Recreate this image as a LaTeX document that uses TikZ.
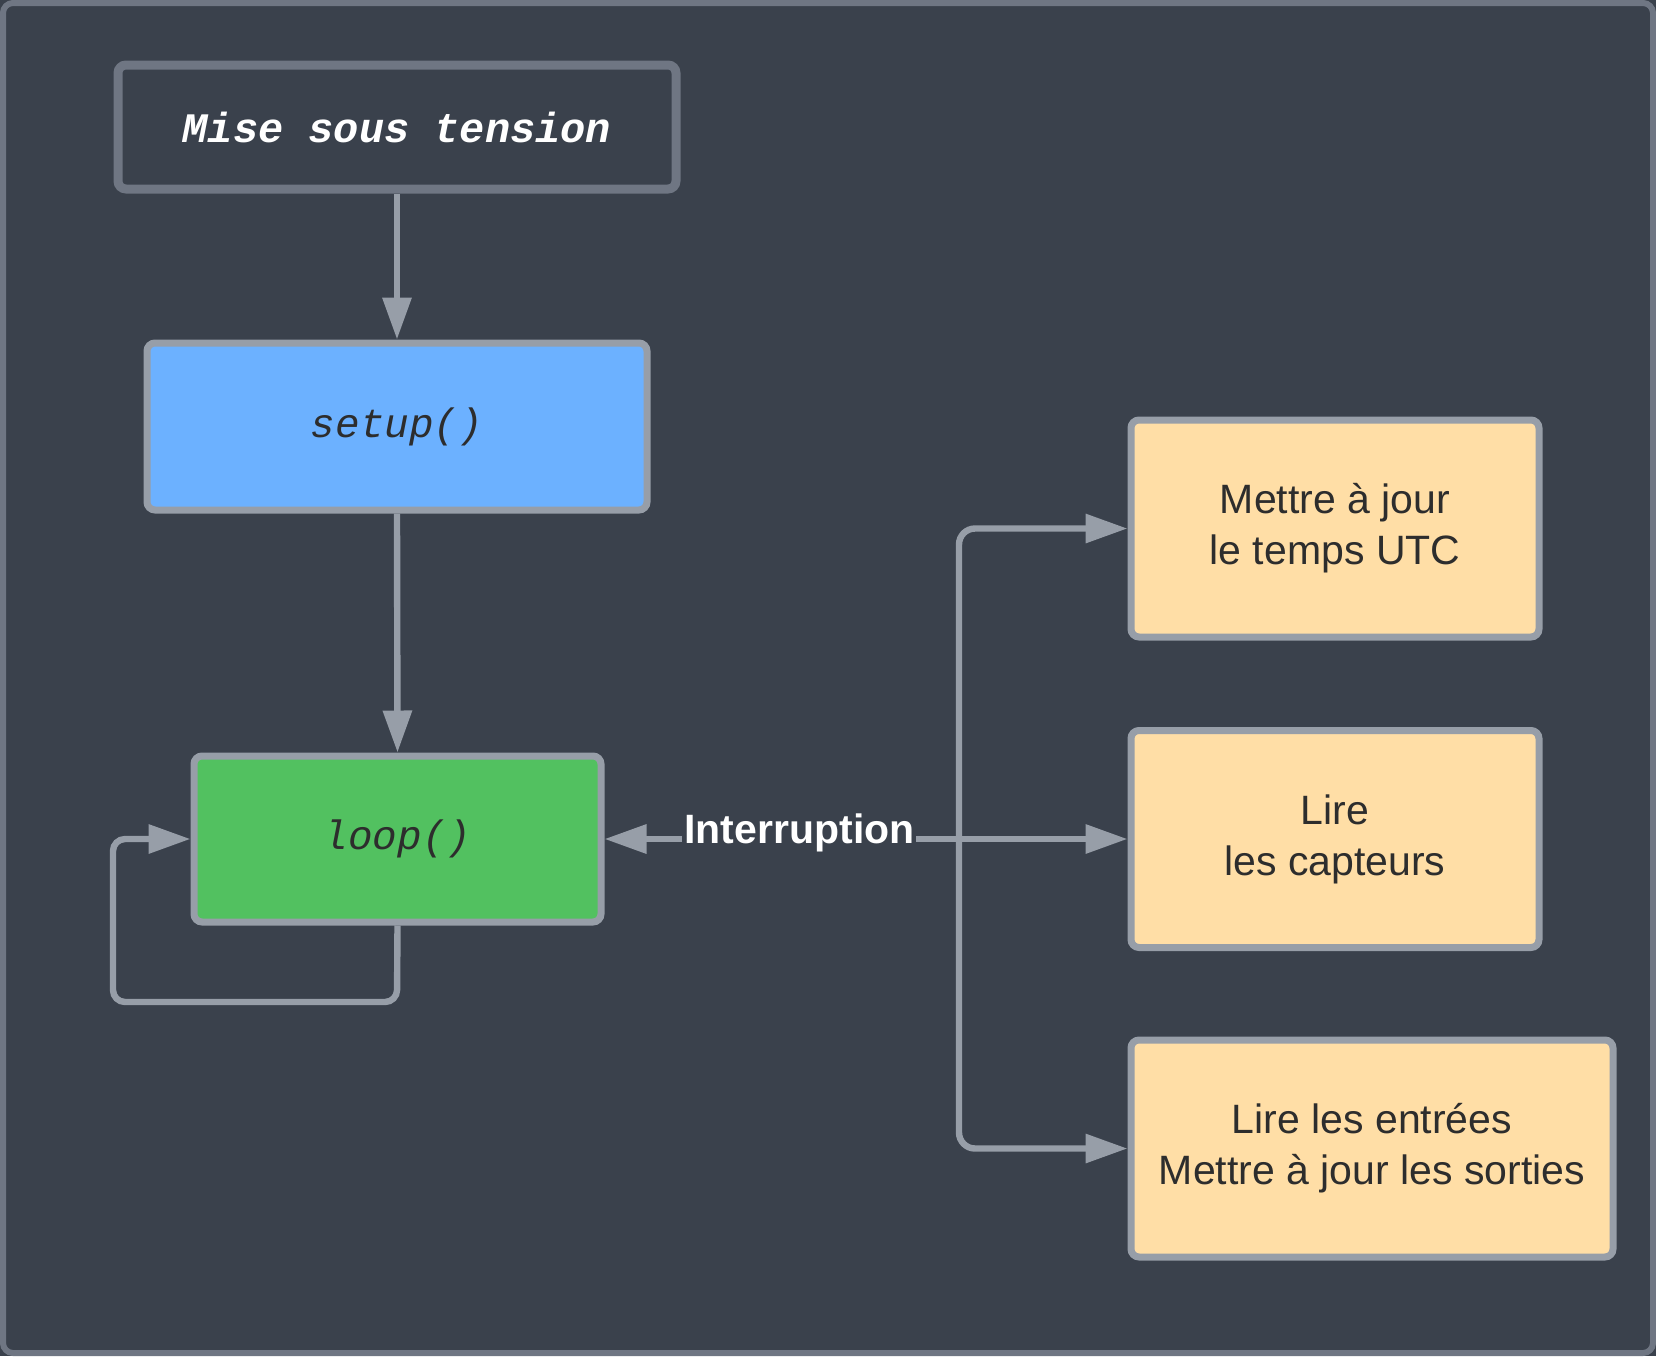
\documentclass[tikz,border=0pt]{standalone}
\usepackage{fontspec}
\setmainfont{Liberation Sans}
\newfontfamily\codefont{Liberation Mono}
\usetikzlibrary{arrows.meta,positioning}
\definecolor{bgc}{HTML}{3A414C}
\definecolor{framec}{HTML}{6F7683}
\definecolor{edgec}{HTML}{979EA8}
\definecolor{bluec}{HTML}{6CB1FF}
\definecolor{greenc}{HTML}{52C160}
\definecolor{orangec}{HTML}{FFDEA6}
\definecolor{darktxt}{HTML}{2D2D2D}
\tikzset{
  box/.style={draw=edgec, line width=3.5pt, rounded corners=4pt, align=center, inner sep=0pt},
  codetxt/.style={font=\codefont\fontsize{20.5}{25}\selectfont\itshape, text=darktxt},
  sanstxt/.style={font=\fontsize{20.5}{25.5}\selectfont, text=darktxt},
  conn/.style={draw=edgec, line width=3.2pt, -{Triangle[length=21pt,width=14pt]}},
}
\begin{document}
\begin{tikzpicture}[x=0.5pt,y=-0.5pt]
\useasboundingbox (0,0) rectangle (1656,1356);
\fill[bgc] (0,0) rectangle (1656,1356);
\draw[framec, line width=3pt, fill=bgc, rounded corners=5pt] (3,3) rectangle (1653,1353);

\node[box, draw=framec, line width=4.5pt, fill=bgc, minimum width=279pt, minimum height=62pt,
  font=\codefont\fontsize{21}{25}\selectfont\bfseries\itshape, text=white] (mise) at (397,127) {Mise sous tension};
\node[box, fill=bluec, minimum width=250pt, minimum height=83.5pt, codetxt] (setup) at (397,426.5) {setup()};
\node[box, fill=greenc, minimum width=203.5pt, minimum height=83pt, codetxt] (loop) at (397.5,839) {loop()};

\node[box, fill=orangec, minimum width=204pt, minimum height=108.5pt, sanstxt] (utc) at (1335,528.5) {Mettre à jour\\le temps UTC};
\node[box, fill=orangec, minimum width=204pt, minimum height=108.5pt, sanstxt] (capt) at (1335,839) {Lire\\les capteurs};
\node[box, fill=orangec, minimum width=241pt, minimum height=108.5pt, sanstxt] (io) at (1372,1148.5) {Lire les entrées\\Mettre à jour les sorties};

\draw[conn] (mise.south) -- (setup.north);
\draw[conn] (setup.south) -- (loop.north);

\coordinate (lb) at (397,1002);
\coordinate (ll) at (113,1002);
\coordinate (lt) at (113,839);
\draw[conn, rounded corners=6pt] (loop.south) -- (lb) -- (ll) -- (lt) -- (loop.west);

\coordinate (br) at (959,839);
\coordinate (bt) at (959,528.5);
\coordinate (bb) at (959,1148.5);
\draw[conn, rounded corners=8pt] (br) -- (bt) -- (utc.west);
\draw[conn, rounded corners=8pt] (br) -- (bb) -- (io.west);
\draw[conn] (br) -- (capt.west);
\draw[conn] (br) -- node[pos=0.45, fill=bgc, inner sep=1pt, text=white, font=\fontsize{20.5}{24}\selectfont\bfseries, yshift=3pt] (intr) {Interruption} (loop.east);
\end{tikzpicture}
\end{document}
